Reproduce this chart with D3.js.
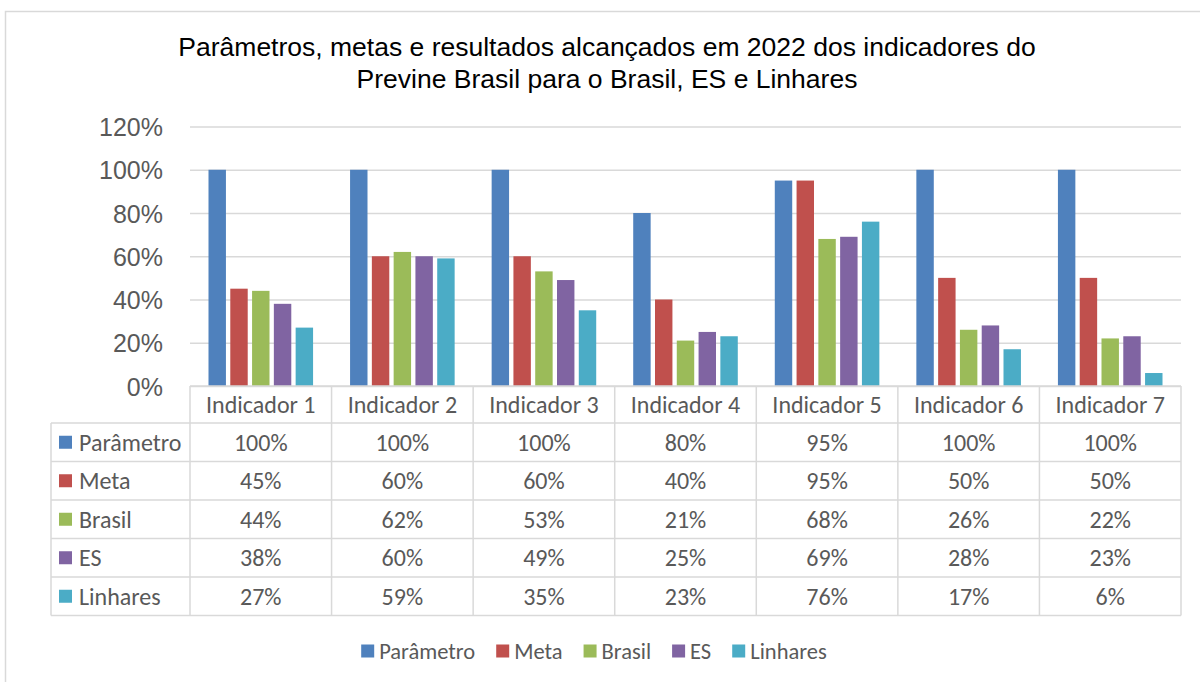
<!DOCTYPE html>
<html>
<head>
<meta charset="utf-8">
<script src="https://cdn.jsdelivr.net/npm/d3@7"></script>
<style>
  html, body { margin: 0; padding: 0; background: #fff; }
  svg { display: block; }
</style>
</head>
<body>
<svg id="chart" width="1200" height="682"></svg>
<script>
const categories = ["Indicador 1", "Indicador 2", "Indicador 3", "Indicador 4", "Indicador 5", "Indicador 6", "Indicador 7"];
const seriesNames = ["Parâmetro", "Meta", "Brasil", "ES", "Linhares"];
const parametro = [100, 100, 100, 80, 95, 100, 100];
const meta = [45, 60, 60, 40, 95, 50, 50];
const brasil = [44, 62, 53, 21, 68, 26, 22];
const es = [38, 60, 49, 25, 69, 28, 23];
const linhares = [27, 59, 35, 23, 76, 17, 6];
const yTicks = [0, 20, 40, 60, 80, 100, 120];
const titleLines = ["Parâmetros, metas e resultados alcançados em 2022 dos indicadores do", "Previne Brasil para o Brasil, ES e Linhares"];

const seriesValues = [parametro, meta, brasil, es, linhares];
const colors = ["#4F81BD", "#C0504D", "#9BBB59", "#8064A2", "#4BACC6"];
const textColor = "#595959";
const gridColor = "#D9D9D9";
const tableFont = "Carlito, Calibri, Lato, sans-serif";
const axisFont = "Arial, 'Liberation Sans', sans-serif";

const svg = d3.select("#chart");

// outer chart border
svg.append("rect").attr("x", 5.5).attr("y", 11.5).attr("width", 1300).attr("height", 800)
  .attr("fill", "#fff").attr("stroke", gridColor).attr("stroke-width", 1.5);

// title
const title = svg.append("text").attr("text-anchor", "middle")
  .attr("font-family", axisFont).attr("font-size", 26.5).attr("fill", "#000");
titleLines.forEach((t, i) => {
  title.append("tspan").attr("x", 607).attr("y", 56 + i * 32).text(t);
});

const plotLeft = 190, plotRight = 1181, yZero = 386, yTop = 126.5;
const x = d3.scaleBand().domain(categories).range([plotLeft, plotRight]).padding(0);
const y = d3.scaleLinear().domain([0, 120]).range([yZero, yTop]);
const xInner = d3.scaleBand().domain(seriesNames)
  .range([18.5, x.bandwidth() - 18.5]).paddingInner(0.2).paddingOuter(0);

// gridlines + y axis labels
const yAxis = d3.axisLeft(y).tickValues(yTicks).tickFormat(d => d + "%")
  .tickSizeInner(-(plotRight - plotLeft)).tickSizeOuter(0).tickPadding(27);
const gy = svg.append("g").attr("transform", `translate(${plotLeft},0)`).call(yAxis);
gy.select(".domain").remove();
gy.selectAll(".tick line").attr("stroke", gridColor).attr("stroke-width", 1.5);
gy.selectAll(".tick text").attr("font-family", axisFont).attr("font-size", 25)
  .attr("fill", textColor).attr("dy", "0.36em");

// bars
const barsData = [];
categories.forEach((c, ci) => {
  seriesNames.forEach((s, si) => {
    barsData.push({ cat: c, series: s, value: seriesValues[si][ci], color: colors[si] });
  });
});
svg.append("g").selectAll("rect").data(barsData).join("rect")
  .attr("x", d => x(d.cat) + xInner(d.series))
  .attr("width", xInner.bandwidth())
  .attr("y", d => y(d.value))
  .attr("height", d => yZero - y(d.value))
  .attr("fill", d => d.color);

// data table
const headerTop = yZero, headerH = 37, rowH = 38.5;
const tableLeft = 51;
const tableFontSize = 24;
const tableBottom = headerTop + headerH + rowH * seriesNames.length;
const tg = svg.append("g");
const line = (x1, y1, x2, y2) => tg.append("line").attr("x1", x1).attr("y1", y1).attr("x2", x2).attr("y2", y2)
  .attr("stroke", gridColor).attr("stroke-width", 1.5);

// horizontal lines
line(plotLeft, headerTop, plotRight, headerTop);
for (let r = 0; r <= seriesNames.length; r++) {
  const yy = headerTop + headerH + r * rowH;
  line(tableLeft, yy, plotRight, yy);
}
// vertical lines
categories.forEach(c => line(x(c), headerTop, x(c), tableBottom));
line(plotRight, headerTop, plotRight, tableBottom);
line(tableLeft, headerTop + headerH, tableLeft, tableBottom);

// header labels
tg.selectAll("text.cat").data(categories).join("text").attr("class", "cat")
  .attr("x", d => x(d) + x.bandwidth() / 2)
  .attr("y", headerTop + headerH / 2).attr("dy", "0.35em")
  .attr("text-anchor", "middle").attr("font-family", tableFont).attr("font-size", tableFontSize)
  .attr("fill", textColor).text(d => d);

// row labels with keys
seriesNames.forEach((s, si) => {
  const cy = headerTop + headerH + si * rowH + rowH / 2;
  tg.append("rect").attr("x", 59).attr("y", cy - 6.5).attr("width", 13).attr("height", 13).attr("fill", colors[si]);
  tg.append("text").attr("x", 79).attr("y", cy).attr("dy", "0.35em")
    .attr("font-family", tableFont).attr("font-size", tableFontSize).attr("fill", textColor).text(s);
  categories.forEach((c, ci) => {
    tg.append("text").attr("x", x(c) + x.bandwidth() / 2).attr("y", cy).attr("dy", "0.35em")
      .attr("text-anchor", "middle").attr("font-family", tableFont).attr("font-size", tableFontSize)
      .attr("fill", textColor).text(seriesValues[si][ci] + "%");
  });
});

// bottom legend
const lg = svg.append("g");
const legendY = 651, keySize = 13, keyGap = 5, itemGap = 21;
const items = seriesNames.map((s, i) => {
  const t = lg.append("text").attr("font-family", tableFont).attr("font-size", 22.5)
    .attr("fill", textColor).attr("y", legendY).attr("dy", "0.35em").text(s);
  const w = t.node().getComputedTextLength();
  const r = lg.append("rect").attr("width", keySize).attr("height", keySize)
    .attr("y", legendY - keySize / 2).attr("fill", colors[i]);
  return { t, r, w };
});
const total = d3.sum(items, d => keySize + keyGap + d.w) + itemGap * (items.length - 1);
let cx = 594 - total / 2;
items.forEach(d => {
  d.r.attr("x", cx);
  d.t.attr("x", cx + keySize + keyGap);
  cx += keySize + keyGap + d.w + itemGap;
});
</script>
</body>
</html>
